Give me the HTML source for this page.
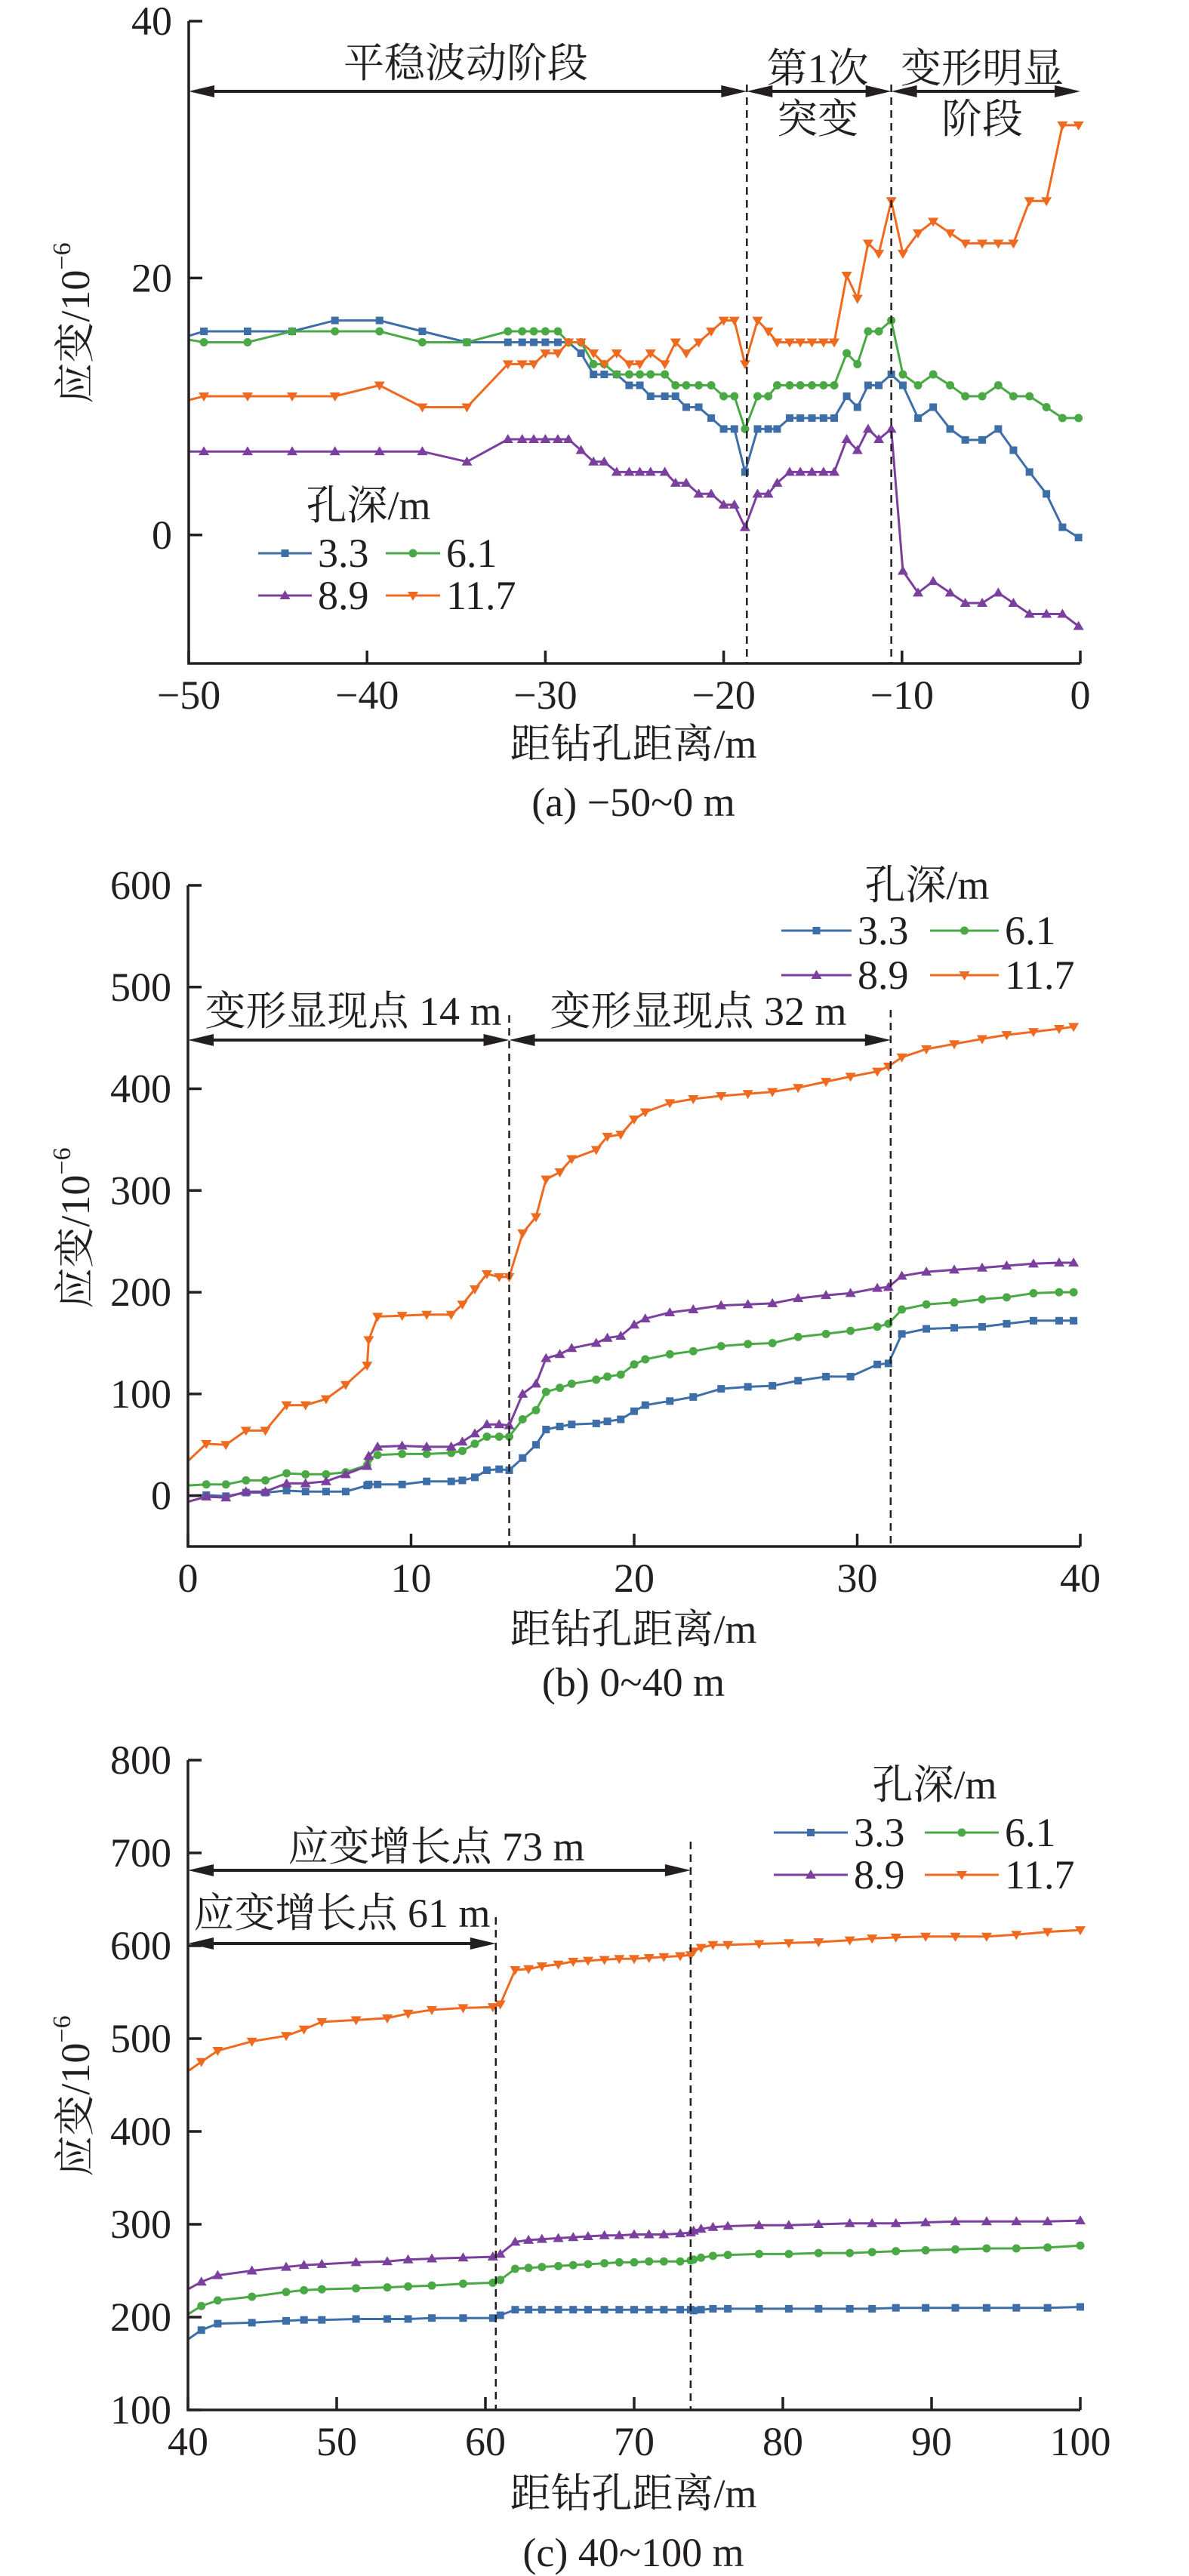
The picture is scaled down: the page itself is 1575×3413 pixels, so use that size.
<!DOCTYPE html>
<html><head><meta charset="utf-8">
<style>
html,body{margin:0;padding:0;background:#fff;}
svg{display:block;}
text{font-family:"Liberation Serif","Noto Serif CJK SC","Noto Sans CJK SC",serif;fill:#231f20;}
</style></head>
<body>
<svg id="fig" width="1575" height="3413" viewBox="0 0 1575 3413" xmlns="http://www.w3.org/2000/svg"></svg>
<script>
// ---------- Chart (a) data ----------
const xA = [-50,-49.15,-46.7,-44.2,-41.8,-39.3,-36.9,-34.4,-32.1,-31.3,-30.65,-30.0,-29.3,-28.7,-28.0,-27.3,-26.7,-26.0,-25.3,-24.7,-24.1,-23.3,-22.7,-22.1,-21.4,-20.7,-20.0,-19.4,-18.8,-18.1,-17.5,-17.0,-16.3,-15.7,-15.05,-14.4,-13.8,-13.1,-12.5,-11.9,-11.3,-10.6,-9.95,-9.1,-8.25,-7.3,-6.45,-5.5,-4.6,-3.75,-2.85,-1.9,-1.0,-0.1];
const a33 = [15.5,15.85,15.85,15.85,16.7,16.7,15.85,15.0,15.0,15.0,15.0,15.0,15.0,15.0,14.15,12.5,12.5,12.5,11.65,11.65,10.8,10.8,10.8,9.95,9.95,9.1,8.25,8.25,4.9,8.25,8.25,8.25,9.1,9.1,9.1,9.1,9.1,10.8,9.95,11.65,11.65,12.5,11.65,9.1,9.95,8.25,7.4,7.4,8.25,6.6,4.9,3.2,0.6,-0.2];
const a61 = [15.2,15.0,15.0,15.85,15.85,15.85,15.0,15.0,15.85,15.85,15.85,15.85,15.85,15.0,15.0,13.3,13.3,12.5,12.5,12.5,12.5,12.5,11.65,11.65,11.65,11.65,10.8,10.8,8.25,10.8,10.8,11.65,11.65,11.65,11.65,11.65,11.65,14.15,13.3,15.85,15.85,16.7,12.5,11.65,12.5,11.65,10.8,10.8,11.65,10.8,10.8,9.95,9.1,9.1];
const a89 = [6.5,6.5,6.5,6.5,6.5,6.5,6.5,5.7,7.45,7.45,7.45,7.45,7.45,7.45,6.6,5.7,5.7,4.9,4.9,4.9,4.9,4.9,4.05,4.05,3.2,3.2,2.35,2.35,0.6,3.2,3.2,4.05,4.9,4.9,4.9,4.9,4.9,7.45,6.6,8.25,7.45,8.25,-2.8,-4.5,-3.6,-4.5,-5.3,-5.3,-4.5,-5.3,-6.15,-6.15,-6.15,-7.1];
const a117 = [10.5,10.8,10.8,10.8,10.8,11.65,9.95,9.95,13.3,13.3,13.3,14.15,14.15,15.0,15.0,14.15,13.3,14.15,13.3,13.3,14.15,13.3,15.0,14.15,15.0,15.85,16.7,16.7,13.3,16.7,15.85,15.0,15.0,15.0,15.0,15.0,15.0,20.2,18.4,22.7,21.9,26.0,21.9,23.5,24.4,23.5,22.7,22.7,22.7,22.7,26.0,26.0,31.9,31.9];
const yTicksA = [40,20,0];
const xTicksA = [-50,-40,-30,-20,-10,0];

// ---------- Chart (b) data ----------
const xB = [0,0.82,1.7,2.6,3.47,4.42,5.27,6.19,7.07,8.03,8.1,8.5,9.6,10.7,11.8,12.3,12.86,13.4,13.95,14.4,15.0,15.6,16.05,16.67,17.2,18.3,18.8,19.4,20.0,20.5,21.6,22.65,23.9,25.1,26.2,27.35,28.6,29.7,30.9,31.4,32.0,33.1,34.35,35.6,36.7,37.9,39.05,39.7];
const b33 = [0,0.5,-0.5,3,3,5,4,4,4,10,11,11,11,14,14,15,18,25,26,25,37,50,65,68,70,71,73,75,83,89,93,97,105,107,108,113,117,117,129,130,159,164,165,166,169,172,172,172];
const b61 = [10,11,11,15,15,22,21,21,23,30,36,40,41,41,42,44,51,58,58,58,75,84,102,106,110,114,117,119,129,134,139,142,147,149,150,156,159,162,166,169,183,188,190,193,195,199,200,200];
const b89 = [-6,-1,-2,4,4,12,12,14,21,29,39,48,49,48,48,53,61,70,70,69,100,110,135,139,145,150,155,157,168,174,180,183,187,188,189,194,197,199,204,205,216,220,222,224,226,228,229,229];
const b117 = [34,51,50,64,64,89,89,95,109,128,153,176,177,178,178,188,203,218,215,215,258,274,311,318,331,340,353,355,370,377,386,390,393,395,397,401,407,412,417,422,431,439,444,449,453,456,459,461];
const yTicksB = [600,500,400,300,200,100,0];
const xTicksB = [0,10,20,30,40];

// ---------- Chart (c) data ----------
const xC = [40,40.9,42.0,44.3,46.6,47.8,49.0,51.3,53.4,54.8,56.4,58.5,60.5,61.0,62.0,62.9,63.8,64.9,65.9,66.9,68.0,69.0,70.0,71.0,72.0,73.1,73.8,74.0,74.5,75.3,76.3,78.4,80.4,82.4,84.5,86.0,87.6,89.6,91.6,93.7,95.7,97.8,100];
const c33 = [176,186,193,194,196,197,197,198,198,198,199,199,199,202,208,208,208,208,208,208,208,208,208,208,208,208,208,207,208,209,209,209,209,209,209,209,210,210,210,210,210,210,211];
const c61 = [203,212,218,222,227,229,230,231,232,233,234,236,237,240,252,253,254,255,256,257,258,259,259,260,260,260,261,262,264,266,267,268,268,269,269,270,271,272,273,274,274,275,277];
const c89 = [230,238,245,250,254,256,257,259,260,262,263,264,265,268,281,283,284,285,286,287,288,288,289,289,289,290,291,293,295,297,298,299,299,300,301,301,301,302,303,303,303,303,304];
const c117 = [465,475,487,497,503,510,518,520,522,527,531,533,534,537,574,575,578,580,583,584,585,586,586,587,588,589,590,594,598,601,601,602,603,604,606,608,609,610,610,610,612,615,617];
const yTicksC = [800,700,600,500,400,300,200,100];
const xTicksC = [40,50,60,70,80,90,100];

const seriesNames = ['3.3','6.1','8.9','11.7'];

const NS='http://www.w3.org/2000/svg';
const svg=document.getElementById('fig');
const COLORS=['#3e6ea8','#4aa845','#7b3f9e','#ef6a21'];
const SHAPES=['square','circle','tri-up','tri-down'];
function el(tag,attrs,parent){const e=document.createElementNS(NS,tag);for(const k in attrs)e.setAttribute(k,attrs[k]);(parent||svg).appendChild(e);return e;}
function txt(s,x,y,size,anchor,parent){const t=el('text',{x:x,y:y,'font-size':size,'text-anchor':anchor||'middle','dominant-baseline':'central'},parent);t.textContent=s;return t;}
function marker(g,shape,x,y,c){
  let m;
  if(shape==='square')m=el('rect',{x:x-5,y:y-5,width:10,height:10,fill:c},g);
  else if(shape==='circle')m=el('circle',{cx:x,cy:y,r:5.5,fill:c},g);
  else if(shape==='tri-up')m=el('path',{d:`M${x-7},${y+5}L${x+7},${y+5}L${x},${y-7}Z`,fill:c},g);
  else m=el('path',{d:`M${x-7},${y-5}L${x+7},${y-5}L${x},${y+7}Z`,fill:c},g);
  return m;
}
function arrowHead(g,x,y,dir){el('path',{d:`M${x},${y}L${x-dir*34},${y-8}L${x-dir*34},${y+8}Z`,fill:'#231f20'},g);}
function dblArrow(g,x1,x2,y){el('line',{x1:x1+10,y1:y,x2:x2-10,y2:y,stroke:'#231f20','stroke-width':4},g);arrowHead(g,x1,y,-1);arrowHead(g,x2,y,1);}

function drawChart(c){
  const g=el('g',{});
  
  
  const sx=v=>c.L+(v-c.x0)/(c.x1-c.x0)*(c.R-c.L);
  const sy=v=>c.B-(v-c.y0)/(c.y1-c.y0)*(c.B-c.T);
  c.series.forEach((ys,i)=>{
    const sg=el('g',{},g);
    
    
    let d='';
    c.xs.forEach((xv,j)=>{d+=(j?'L':'M')+sx(xv).toFixed(1)+','+sy(ys[j]).toFixed(1);});
    el('path',{d:d,fill:'none',stroke:COLORS[i],'stroke-width':3},sg);
    c.xs.forEach((xv,j)=>{if(j===0&&c.skipFirst)return;const m=marker(sg,SHAPES[i],sx(xv),sy(ys[j]),COLORS[i]);
      
      });
  });
  const ax=el('path',{d:`M${c.L},${c.T}V${c.B}H${c.R}`,fill:'none',stroke:'#231f20','stroke-width':3.5},g);
  
  
  c.yTicks.forEach(v=>{const y=sy(v);el('line',{x1:c.L,y1:y,x2:c.L+18,y2:y,stroke:'#231f20','stroke-width':3.5},g);
    const t=txt(String(v),c.L-22,y,54,'end',g);
    
    });
  c.xTicks.forEach(v=>{const x=sx(v);el('line',{x1:x,y1:c.B,x2:x,y2:c.B-17,stroke:'#231f20','stroke-width':3.5},g);
    const t=txt(String(v).replace('-','\u2212'),x,c.B+42,54,'middle',g);
    
    });
  c.dash.forEach(dl=>{const l=el('line',{x1:sx(dl[0]),y1:dl[1],x2:sx(dl[0]),y2:c.B,stroke:'#231f20','stroke-width':2.5,'stroke-dasharray':'10,7'},g);
    
    });
  c.arrows.forEach(a=>{dblArrow(g,sx(a[0]),sx(a[1]),a[2]);});
  c.notes.forEach(n=>{const t=txt(n[0],n[1],n[2],54,'middle',g);
    
    });
  const lg=el('g',{},g);
  
  
  const lt=txt('孔深/m',c.leg.tx,c.leg.ty,54,'middle',lg);
  
  
  for(let i=0;i<4;i++){
    const row=Math.floor(i/2),col=i%2;
    const lx=c.leg.lx[col],y=c.leg.ry[row];
    el('line',{x1:lx[0],y1:y,x2:lx[1],y2:y,stroke:COLORS[i],'stroke-width':3},lg);
    marker(lg,SHAPES[i],(lx[0]+lx[1])/2,y,COLORS[i]);
    const t=txt(seriesNames[i],lx[1]+8,y,54,'start',lg);
    
    
  }
  const xt=txt('距钻孔距离/m',c.xlab[0],c.xlab[1],54,'middle',g);
  
  
  const cap=txt(c.caption,c.cap[0],c.cap[1],54,'middle',g);
  
  
  const yt=el('text',{x:0,y:0,'font-size':54,'text-anchor':'middle','dominant-baseline':'central',transform:`translate(${c.ylab[0]},${c.ylab[1]}) rotate(-90)`},g);
  
  
  yt.appendChild(document.createTextNode('应变/10'));
  const sup=el('tspan',{'font-size':34,dy:-18},yt);sup.textContent='\u22126';
}

drawChart({name:'chart-a',L:250,R:1431,T:28,B:879,x0:-50,x1:0,y0:-10,y1:40,
  xs:xA,series:[a33,a61,a89,a117],yTicks:yTicksA,xTicks:xTicksA,skipFirst:true,
  dash:[[-18.7,112],[-10.6,112]],
  arrows:[[-50,-18.7,121],[-18.7,-10.6,121],[-10.6,0,121]],
  notes:[['平稳波动阶段',617,84],['第1次',1083,91],['突变',1083,158],['变形明显',1301,91],['阶段',1301,158]],
  leg:{tx:488,ty:670,ry:[733,789],lx:[[342,413],[511,583]]},
  xlab:[839,986],cap:[839,1063],caption:'(a) \u221250~0 m',ylab:[100,428]});

drawChart({name:'chart-b',L:249,R:1431,T:1173,B:2049,x0:0,x1:40,y0:-50,y1:600,
  xs:xB,series:[b33,b61,b89,b117],yTicks:yTicksB,xTicks:xTicksB,skipFirst:true,
  dash:[[14.4,1345],[31.5,1338]],
  arrows:[[0,14.4,1378],[14.4,31.5,1378]],
  notes:[['变形显现点 14 m',468,1340],['变形显现点 32 m',925,1340]],
  leg:{tx:1228,ty:1173,ry:[1233,1292],lx:[[1035,1128],[1232,1323]]},
  xlab:[839,2159],cap:[839,2229],caption:'(b) 0~40 m',ylab:[100,1627]});

drawChart({name:'chart-c',L:249,R:1431,T:2332,B:3193,x0:40,x1:100,y0:100,y1:800,
  xs:xC,series:[c33,c61,c89,c117],yTicks:yTicksC,xTicks:xTicksC,skipFirst:true,
  dash:[[60.7,2540],[73.8,2440]],
  arrows:[[40,73.8,2478],[40,60.7,2575]],
  notes:[['应变增长点 73 m',578,2447],['应变增长点 61 m',453,2535]],
  leg:{tx:1238,ty:2365,ry:[2428,2484],lx:[[1025,1123],[1225,1323]]},
  xlab:[839,3304],cap:[839,3382],caption:'(c) 40~100 m',ylab:[100,2777]});
</script>
</body></html>
